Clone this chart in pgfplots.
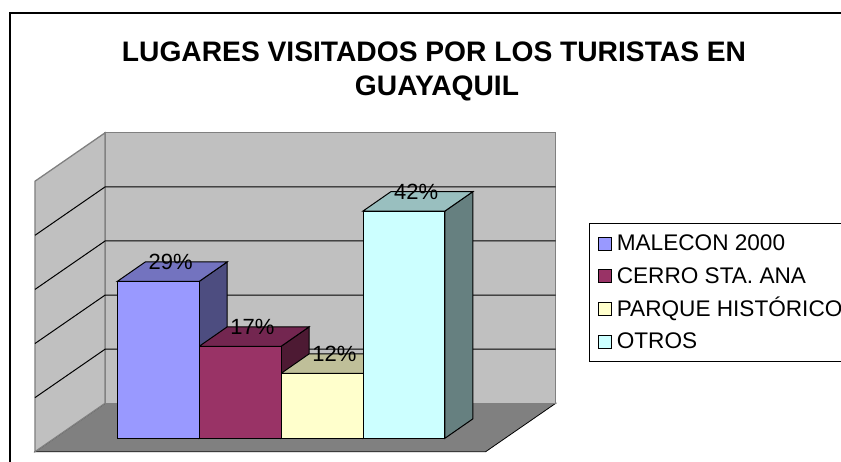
\documentclass[border=0pt]{standalone}
\usepackage{pgfplots}
\pgfplotsset{compat=1.18}
\usepackage{fontspec}
\setmainfont{Liberation Sans}
\definecolor{c1f}{HTML}{9999FF}\definecolor{c1t}{HTML}{7373BF}\definecolor{c1s}{HTML}{4D4D80}
\definecolor{c2f}{HTML}{993366}\definecolor{c2t}{HTML}{732650}\definecolor{c2s}{HTML}{4D1A33}
\definecolor{c3f}{HTML}{FFFFCC}\definecolor{c3t}{HTML}{BFBF99}\definecolor{c3s}{HTML}{808066}
\definecolor{c4f}{HTML}{CCFFFF}\definecolor{c4t}{HTML}{99BFBF}\definecolor{c4s}{HTML}{668080}
\definecolor{wallc}{HTML}{C0C0C0}\definecolor{wallline}{HTML}{808080}\definecolor{floorc}{HTML}{808080}
\begin{document}
\begin{tikzpicture}[x=1bp,y=1bp]
% outer chart frame
\draw[line width=1.5bp] (10,449) rectangle (900,-30);
% title
\node[anchor=base, font=\fontsize{28.2bp}{32bp}\selectfont\bfseries] at (434,400) {LUGARES VISITADOS POR LOS TURISTAS EN};
\node[anchor=base, font=\fontsize{28.2bp}{32bp}\selectfont\bfseries] at (437,366) {GUAYAQUIL};
\begin{axis}[
  x=81.9bp, y=5.41bp,
  xmin=-1.2, xmax=5.6, ymin=-3, ymax=58,
  hide axis, clip=false,
  anchor=south west, at={(19.02bp,7.47bp)},
  /pgf/number format/assume math mode=true,
  every node near coord/.append style={inner sep=0pt, xshift=12.3bp, yshift=10.8bp,
     font=\fontsize{22bp}{24bp}\selectfont, text=black},
  legend image code/.code={\draw[#1] (0bp,-6.5bp) rectangle (13bp,6.5bp);},
  legend cell align=left,
  legend style={at={(1.02345,0.70159)}, anchor=north west, draw=black, line width=1bp, fill=white,
     font=\fontsize{22.6bp}{26bp}\selectfont, inner xsep=8bp, inner ysep=11bp,
     row sep=14.8bp, column sep=5.5bp,
     nodes={inner sep=0pt, text height=16bp, text depth=2bp}},
]
% floor
\addplot[forget plot, fill=floorc, draw=black, line width=0.8bp] coordinates {(-1.005,-2.48) (4.497,-2.48) (5.353,6.47) (-0.149,6.47)} -- cycle;
% back wall
\addplot[forget plot, fill=wallc, draw=wallline, line width=1.3bp] coordinates {(-0.149,6.47) (5.353,6.47) (5.353,56.47) (-0.149,56.47)} -- cycle;
% left wall
\addplot[forget plot, fill=wallc, draw=wallline, line width=1.3bp] coordinates {(-1.005,-2.48) (-0.149,6.47) (-0.149,56.47) (-1.005,47.52)} -- cycle;
% gridlines at 10, 20, 30, 40 %
\addplot[forget plot, black, line width=1bp] coordinates {(-1.005,7.52) (-0.149,16.47) (5.353,16.47)};
\addplot[forget plot, black, line width=1bp] coordinates {(-1.005,17.52) (-0.149,26.47) (5.353,26.47)};
\addplot[forget plot, black, line width=1bp] coordinates {(-1.005,27.52) (-0.149,36.47) (5.353,36.47)};
\addplot[forget plot, black, line width=1bp] coordinates {(-1.005,37.52) (-0.149,46.47) (5.353,46.47)};
% bar sides
\addplot[forget plot, fill=c1s, draw=black, line width=1bp] coordinates {(1,0) (1.342,3.6) (1.342,32.6) (1,29)} -- cycle;
\addplot[forget plot, fill=c2s, draw=black, line width=1bp] coordinates {(2,0) (2.342,3.6) (2.342,20.6) (2,17)} -- cycle;
\addplot[forget plot, fill=c3s, draw=black, line width=1bp] coordinates {(3,0) (3.342,3.6) (3.342,15.6) (3,12)} -- cycle;
\addplot[forget plot, fill=c4s, draw=black, line width=1bp] coordinates {(4,0) (4.342,3.6) (4.342,45.6) (4,42)} -- cycle;
% bar tops
\addplot[forget plot, fill=c1t, draw=black, line width=1bp] coordinates {(0,29) (1,29) (1.342,32.6) (0.342,32.6)} -- cycle;
\addplot[forget plot, fill=c2t, draw=black, line width=1bp] coordinates {(1,17) (2,17) (2.342,20.6) (1.342,20.6)} -- cycle;
\addplot[forget plot, fill=c3t, draw=black, line width=1bp] coordinates {(2,12) (3,12) (3.342,15.6) (2.342,15.6)} -- cycle;
\addplot[forget plot, fill=c4t, draw=black, line width=1bp] coordinates {(3,42) (4,42) (4.342,45.6) (3.342,45.6)} -- cycle;
% bar fronts with value labels
\addplot[forget plot, ybar, bar width=1, bar shift=0pt, fill=c1f, draw=black, line width=1bp,
  nodes near coords={\pgfmathprintnumber{\pgfplotspointmeta}\%}] coordinates {(0.5,29)};
\addplot[forget plot, ybar, bar width=1, bar shift=0pt, fill=c2f, draw=black, line width=1bp,
  nodes near coords={\pgfmathprintnumber{\pgfplotspointmeta}\%}] coordinates {(1.5,17)};
\addplot[forget plot, ybar, bar width=1, bar shift=0pt, fill=c3f, draw=black, line width=1bp,
  nodes near coords={\pgfmathprintnumber{\pgfplotspointmeta}\%}] coordinates {(2.5,12)};
\addplot[forget plot, ybar, bar width=1, bar shift=0pt, fill=c4f, draw=black, line width=1bp,
  nodes near coords={\pgfmathprintnumber{\pgfplotspointmeta}\%}] coordinates {(3.5,42)};
% legend
\addlegendimage{fill=c1f, draw=black, line width=0.8bp}
\addlegendentry{MALECON 2000}
\addlegendimage{fill=c2f, draw=black, line width=0.8bp}
\addlegendentry{CERRO STA. ANA}
\addlegendimage{fill=c3f, draw=black, line width=0.8bp}
\addlegendentry{PARQUE HISTÓRICO}
\addlegendimage{fill=c4f, draw=black, line width=0.8bp}
\addlegendentry{OTROS}
\end{axis}
\pgfresetboundingbox
\path[use as bounding box] (0,0) rectangle (841,462);
\end{tikzpicture}
\end{document}
